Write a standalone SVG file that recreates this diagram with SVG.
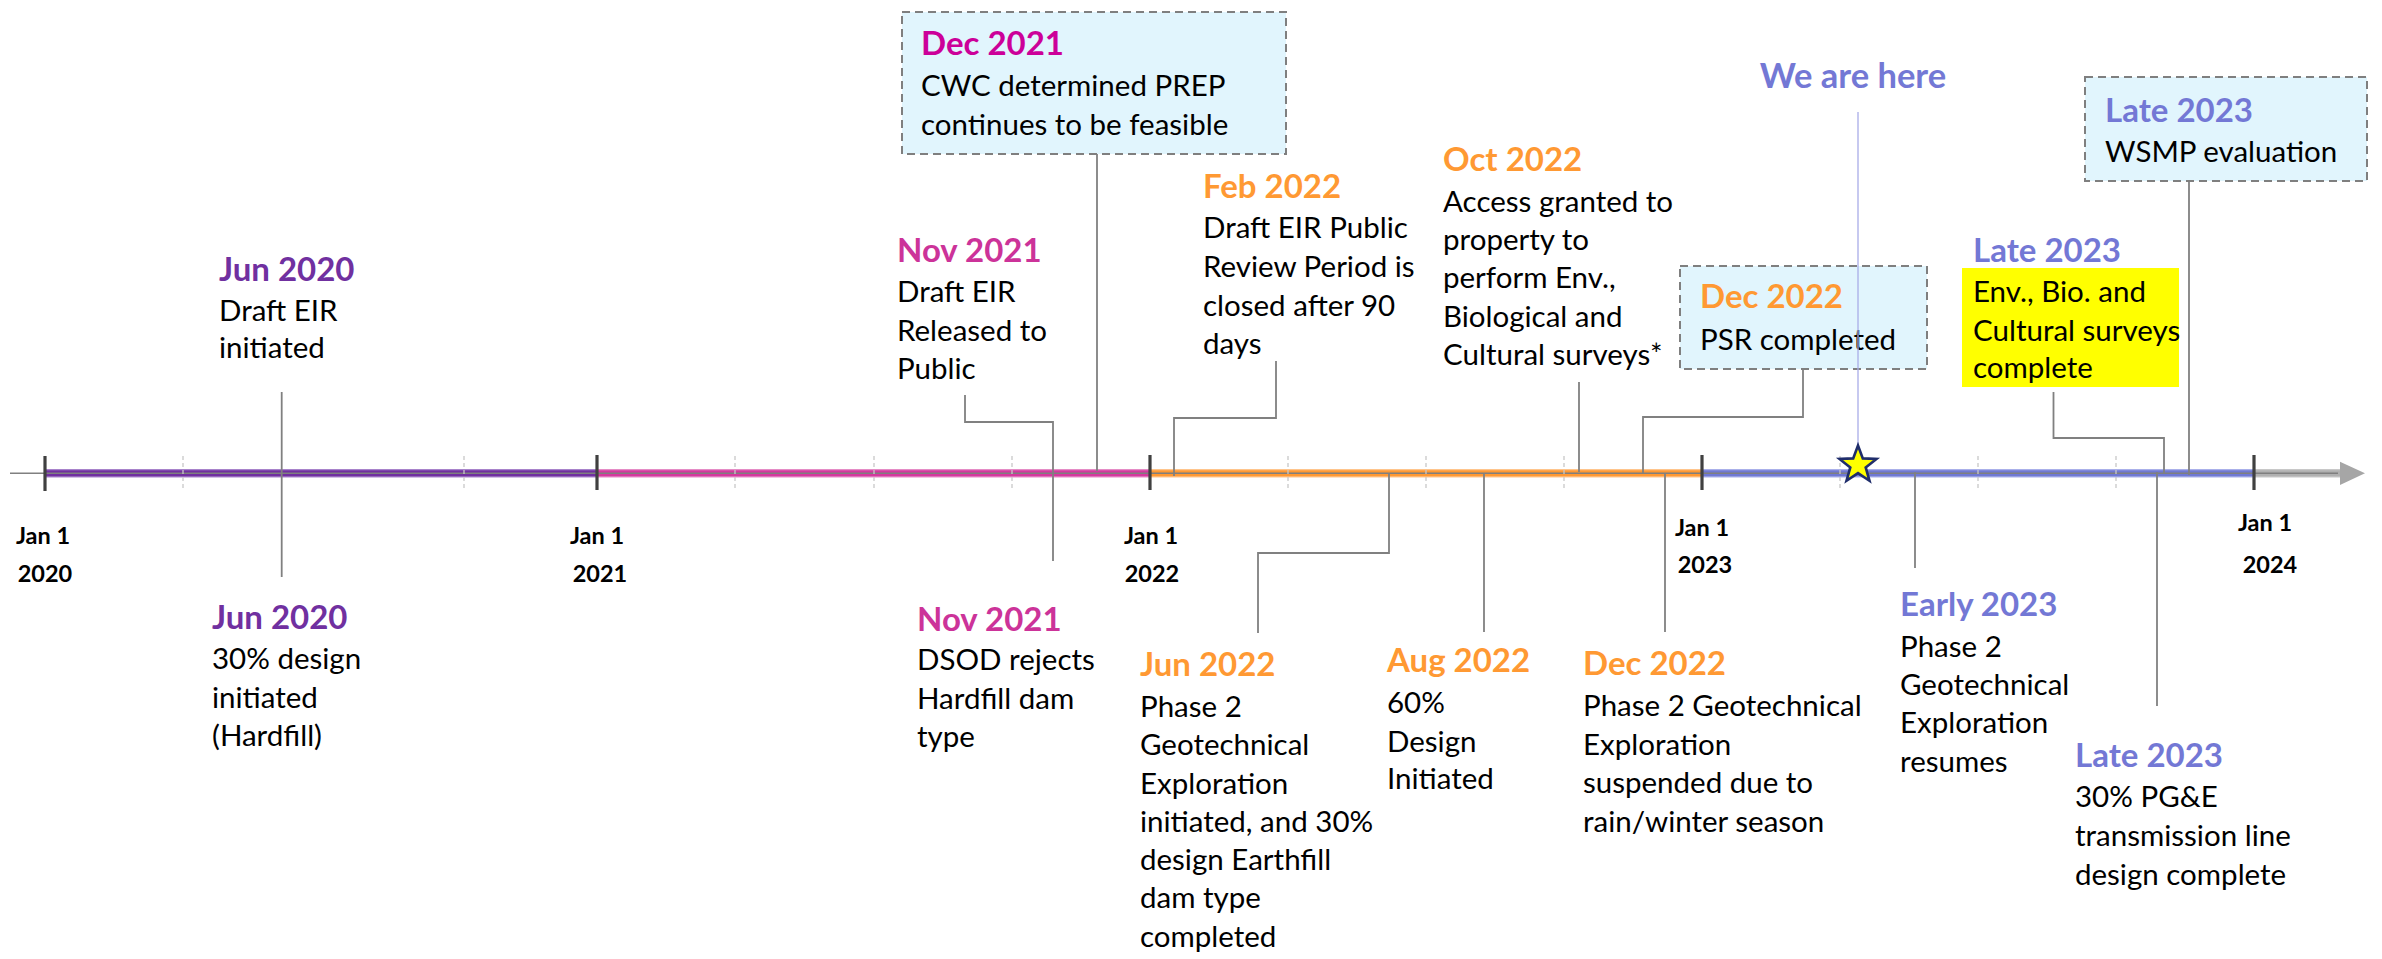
<svg xmlns="http://www.w3.org/2000/svg" width="2382" height="959" viewBox="0 0 2382 959">
<style>
text{font-family:Lato,"Liberation Sans",sans-serif;}
.b{font-size:29.5px;fill:#000;}
.h{font-size:33px;font-weight:bold;}
.yr{font-size:23.5px;font-weight:bold;fill:#000;text-anchor:middle;}
.p20{fill:#7030A0;}
.p21{fill:#CC3399;}
.p21b{fill:#CC0099;}
.p22{fill:#FF9933;}
.p23{fill:#7378D5;}
.box{fill:#E1F5FD;stroke:#7F7F7F;stroke-width:2;stroke-dasharray:8 5;}
.con{fill:none;stroke:#808080;stroke-width:1.8;}
.maj{stroke:#404040;stroke-width:3.2;}
.min{stroke:#C8C8C8;stroke-width:1.3;stroke-dasharray:4 3;}
</style>
<rect width="2382" height="959" fill="#FFFFFF"/>

<g id="node-jun2020-top">
<text class="h p20" x="219" y="281">Jun 2020</text>
<text class="b" x="219" y="321">Draft EIR</text>
<text class="b" x="219" y="358">initiated</text>
</g>
<g id="node-jun2020-bottom">
<text class="h p20" x="212" y="629">Jun 2020</text>
<text class="b" x="212" y="669">30% design</text>
<text class="b" x="212" y="708">initiated</text>
<text class="b" x="212" y="746">(Hardfill)</text>
</g>
<g id="node-nov2021-top">
<text class="h p21" x="897" y="262">Nov 2021</text>
<text class="b" x="897" y="302">Draft EIR</text>
<text class="b" x="897" y="341">Released to</text>
<text class="b" x="897" y="379">Public</text>
</g>
<g id="node-nov2021-bottom">
<text class="h p21" x="917" y="631">Nov 2021</text>
<text class="b" x="917" y="670">DSOD rejects</text>
<text class="b" x="917" y="709">Hardfill dam</text>
<text class="b" x="917" y="747">type</text>
</g>
<g id="node-dec2021">
<rect class="box" x="902" y="12" width="384" height="142"/>
<text class="h p21b" x="921" y="55">Dec 2021</text>
<text class="b" x="921" y="96">CWC determined PREP</text>
<text class="b" x="921" y="135">continues to be feasible</text>
</g>
<g id="node-feb2022">
<text class="h p22" x="1203" y="198">Feb 2022</text>
<text class="b" x="1203" y="238">Draft EIR Public</text>
<text class="b" x="1203" y="277">Review Period is</text>
<text class="b" x="1203" y="316">closed after 90</text>
<text class="b" x="1203" y="354">days</text>
</g>
<g id="node-oct2022">
<text class="h p22" x="1443" y="171">Oct 2022</text>
<text class="b" x="1443" y="212">Access granted to</text>
<text class="b" x="1443" y="250">property to</text>
<text class="b" x="1443" y="288">perform Env.,</text>
<text class="b" x="1443" y="327">Biological and</text>
<text class="b" x="1443" y="365">Cultural surveys*</text>
</g>
<g id="node-dec2022-top">
<rect class="box" x="1680" y="266" width="247" height="103"/>
<text class="h p22" x="1700" y="308">Dec 2022</text>
<text class="b" x="1700" y="350">PSR completed</text>
</g>
<g id="node-we-are-here">
<text class="p23" x="1853" y="88" font-size="34.5" font-weight="bold" text-anchor="middle">We are here</text>
</g>
<g id="node-late2023-wsmp">
<rect class="box" x="2085" y="77" width="282" height="104"/>
<text class="h p23" x="2105" y="122">Late 2023</text>
<text class="b" x="2105" y="162">WSMP evaluation</text>
</g>
<g id="node-late2023-surveys">
<text class="h p23" x="1973" y="262">Late 2023</text>
<rect x="1962" y="268" width="217" height="119" fill="#FFFF00"/>
<text class="b" x="1973" y="302">Env., Bio. and</text>
<text class="b" x="1973" y="341">Cultural surveys</text>
<text class="b" x="1973" y="378">complete</text>
</g>
<g id="node-jun2022">
<text class="h p22" x="1140" y="676">Jun 2022</text>
<text class="b" x="1140" y="717">Phase 2</text>
<text class="b" x="1140" y="755">Geotechnical</text>
<text class="b" x="1140" y="794">Exploration</text>
<text class="b" x="1140" y="832">initiated, and 30%</text>
<text class="b" x="1140" y="870">design Earthfill</text>
<text class="b" x="1140" y="908">dam type</text>
<text class="b" x="1140" y="947">completed</text>
</g>
<g id="node-aug2022">
<text class="h p22" x="1387" y="672">Aug 2022</text>
<text class="b" x="1387" y="713">60%</text>
<text class="b" x="1387" y="752">Design</text>
<text class="b" x="1387" y="789">Initiated</text>
</g>
<g id="node-dec2022-bottom">
<text class="h p22" x="1583" y="675">Dec 2022</text>
<text class="b" x="1583" y="716">Phase 2 Geotechnical</text>
<text class="b" x="1583" y="755">Exploration</text>
<text class="b" x="1583" y="793">suspended due to</text>
<text class="b" x="1583" y="832">rain/winter season</text>
</g>
<g id="node-early2023">
<text class="h p23" x="1900" y="616">Early 2023</text>
<text class="b" x="1900" y="657">Phase 2</text>
<text class="b" x="1900" y="695">Geotechnical</text>
<text class="b" x="1900" y="733">Exploration</text>
<text class="b" x="1900" y="772">resumes</text>
</g>
<g id="node-late2023-pge">
<text class="h p23" x="2075" y="767">Late 2023</text>
<text class="b" x="2075" y="807">30% PG&amp;E</text>
<text class="b" x="2075" y="846">transmission line</text>
<text class="b" x="2075" y="885">design complete</text>
</g>

<g id="axis">
<line x1="10" y1="473.3" x2="45" y2="473.3" stroke="#808080" stroke-width="1.5"/>
<rect x="45" y="469" width="552" height="8.5" fill="#A883CB"/>
<rect x="45" y="470.3" width="552" height="6" fill="#7030A0"/>
<rect x="597" y="469" width="553" height="8.5" fill="#E58CC6"/>
<rect x="597" y="470.3" width="553" height="6" fill="#D4399E"/>
<rect x="1150" y="469" width="552" height="8.5" fill="#FFC58C"/>
<rect x="1150" y="470.3" width="552" height="6" fill="#FF9933"/>
<rect x="1702" y="469" width="552" height="8.5" fill="#AAB0EA"/>
<rect x="1702" y="470.3" width="552" height="6" fill="#6F78D3"/>
<rect x="2254" y="469" width="87" height="8.5" fill="#C8C8C8"/>
<rect x="2254" y="470.3" width="87" height="6" fill="#B0B0B0"/>
<line x1="45" y1="473.3" x2="2338" y2="473.3" stroke="#7F7F7F" stroke-width="1.5"/>
<polygon points="2340,461.7 2365,473.3 2340,485" fill="#A6A6A6"/>
<g class="min">
<line x1="183" y1="456" x2="183" y2="491"/>
<line x1="464" y1="456" x2="464" y2="491"/>
<line x1="735" y1="456" x2="735" y2="491"/>
<line x1="874" y1="456" x2="874" y2="491"/>
<line x1="1012" y1="456" x2="1012" y2="491"/>
<line x1="1288" y1="456" x2="1288" y2="491"/>
<line x1="1426" y1="456" x2="1426" y2="491"/>
<line x1="1564" y1="456" x2="1564" y2="491"/>
<line x1="1840" y1="456" x2="1840" y2="491"/>
<line x1="1978" y1="456" x2="1978" y2="491"/>
<line x1="2116" y1="456" x2="2116" y2="491"/>
</g>
<g class="maj">
<line x1="45" y1="456" x2="45" y2="491"/>
<line x1="597" y1="455" x2="597" y2="490"/>
<line x1="1150" y1="455" x2="1150" y2="490"/>
<line x1="1702" y1="455" x2="1702" y2="490"/>
<line x1="2254" y1="455" x2="2254" y2="490"/>
</g>
<text class="yr" x="43" y="544">Jan 1</text>
<text class="yr" x="45" y="582">2020</text>
<text class="yr" x="597" y="544">Jan 1</text>
<text class="yr" x="600" y="582">2021</text>
<text class="yr" x="1151" y="544">Jan 1</text>
<text class="yr" x="1152" y="582">2022</text>
<text class="yr" x="1702" y="536">Jan 1</text>
<text class="yr" x="1705" y="573">2023</text>
<text class="yr" x="2265" y="531">Jan 1</text>
<text class="yr" x="2270" y="573">2024</text>
</g>

<g id="connectors">
<path class="con" d="M281.7 392 V577"/>
<path class="con" d="M965 395 V422 H1053 V561"/>
<path class="con" d="M1097 154 V471"/>
<path class="con" d="M1276 361 V418 H1174 V476"/>
<path class="con" d="M1579 382 V472"/>
<path class="con" d="M1803 369 V417 H1643 V473"/>
<path class="con" d="M2053.5 392 V438 H2164 V473"/>
<path class="con" d="M2189 181 V475"/>
<path class="con" d="M1389 473 V553 H1258 V633"/>
<path class="con" d="M1484 473 V632"/>
<path class="con" d="M1665 473 V632"/>
<path class="con" d="M1915 472 V568"/>
<path class="con" d="M2157 472 V706"/>
<line x1="1858" y1="112" x2="1858" y2="446" stroke="#A9ACE8" stroke-width="1.3"/>
</g>

<g id="marker-star">
<polygon points="1858,445.5 1862.8,458.4 1876.5,459 1865.7,467.4 1869.5,480.8 1858,473.1 1846.5,480.8 1850.3,467.4 1839.5,459 1853.2,458.4" fill="#FFFF00" stroke="#1F2D6B" stroke-width="2.6" stroke-linejoin="miter"/>
</g>
</svg>
